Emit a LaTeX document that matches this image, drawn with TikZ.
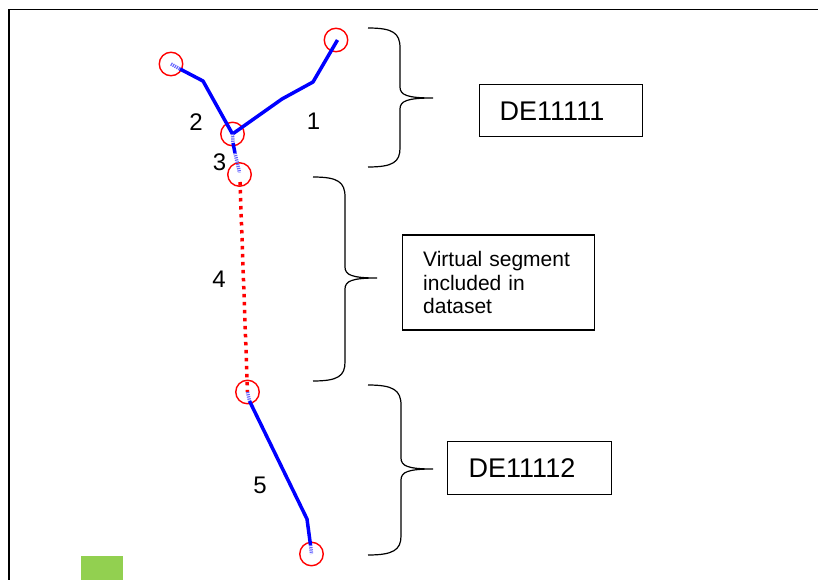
\documentclass[tikz,border=0pt]{standalone}
\usepackage{fontspec}
\setmainfont{Liberation Sans}
\begin{document}
\begin{tikzpicture}[x=1pt,y=-1pt,
  endpt/.style={circle,draw=red,line width=1.4,minimum size=23.5,inner sep=0},
  road/.style={draw=blue,line width=3.5,line join=round},
  roadend/.style={draw=blue!60,line width=3.5,dash pattern=on 1.2 off 1},
  virtual/.style={draw=red,line width=3.5,dash pattern=on 3.5 off 4.5},
  brace/.style={draw=black,line width=1.2},
  idbox/.style={draw=black,line width=1.2,inner ysep=0,align=left,
    font=\fontsize{27}{30}\selectfont},
  seglabel/.style={inner sep=0,font=\fontsize{24}{26}\selectfont}]
\useasboundingbox (0,0) rectangle (818,580);
% outer frame (top and left edges)
\draw[line width=1.7] (9,580) -- (9,9.5) -- (818,9.5);
% legend swatch
\fill[fill={rgb,255:red,146;green,208;blue,80}] (81,556) rectangle (123,580);

% segment end points
\node[endpt] (e1) at (336,40) {};
\node[endpt] (e2) at (171,64) {};
\node[endpt] (e3) at (232.5,134) {};
\node[endpt] (e4) at (239.5,174.5) {};
\node[endpt] (e5) at (247.5,392) {};
\node[endpt] (e6) at (311.5,554) {};

% bends
\coordinate (b1a) at (313,82);
\coordinate (b1b) at (282,99);
\coordinate (b2s) at (180,69);
\coordinate (b2a) at (203,81);
\coordinate (b3a) at (233,143);
\coordinate (b3b) at (235,153);
\coordinate (b4s) at (240,182);
\coordinate (b5s) at (249.5,401);
\coordinate (b5a) at (307,519);
\coordinate (b5b) at (310.5,545);

% segment 1
\draw[road] ([xshift=1.5]e1.center) -- (b1a) -- (b1b) -- (e3.center);
% segment 2
\draw[roadend] (e2.center) -- (b2s);
\draw[road] (b2s) -- (b2a) -- (e3.center);
% segment 3
\draw[roadend] (e3.center) -- (b3a);
\draw[road] (b3a) -- (b3b);
\draw[roadend] (b3b) -- ([yshift=2]e4.center);
% segment 4 (virtual)
\draw[virtual] (b4s) -- (e5.center);
% segment 5
\draw[roadend] (e5.center) -- (b5s);
\draw[road] (b5s) -- (b5a) -- (b5b);
\draw[roadend] (b5b) -- (e6.center);

% segment numbers
\node[seglabel] (l1) at (313.5,121) {1};
\node[seglabel] (l2) at (196,122) {2};
\node[seglabel] (l3) at (219.5,162) {3};
\node[seglabel] (l4) at (219,279) {4};
\node[seglabel] (l5) at (260,485) {5};

% braces
\draw[brace] (368,28) .. controls (393,28) and (400,33) .. (400,48)
  -- (400,87) .. controls (400,95) and (407,98) .. (433,98)
  .. controls (407,98) and (400,101) .. (400,109)
  -- (400,148) .. controls (400,162) and (393,167) .. (368,167);
\draw[brace] (313,177) .. controls (338,177) and (345,182) .. (345,197)
  -- (345,267) .. controls (345,275) and (352,278) .. (377,278)
  .. controls (352,278) and (345,281) .. (345,289)
  -- (345,362) .. controls (345,376) and (338,381) .. (313,381);
\draw[brace] (368,385) .. controls (393,385) and (401,390) .. (401,405)
  -- (401,458) .. controls (401,466) and (408,469) .. (433,469)
  .. controls (408,469) and (401,472) .. (401,480)
  -- (401,536) .. controls (401,550) and (393,555) .. (368,555);

% labels
\node[idbox,text width=122,inner xsep=20.5,minimum height=52] (de1) at (560.7,110.8) {DE11111};
\node[idbox,text width=122,inner xsep=21,minimum height=53] (de2) at (529.7,468.3) {DE11112};
\node[draw=black,line width=1.2,align=left,text width=151,inner xsep=20.5,inner ysep=0,
  minimum height=95,font=\fontsize{21}{23.7}\selectfont] (virt) at (498.7,282.5)
  {Virtual segment\\included in\\dataset};
\end{tikzpicture}
\end{document}
